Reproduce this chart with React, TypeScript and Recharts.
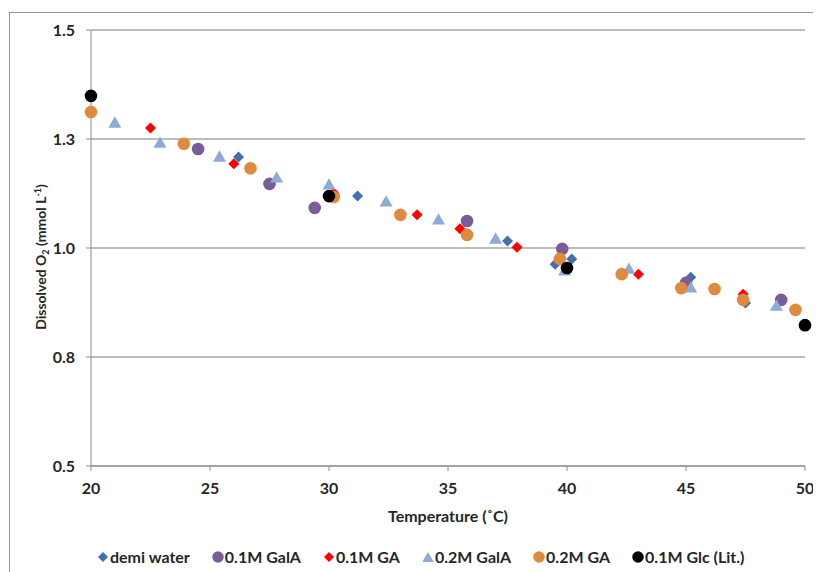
import React from "react";
import {
  CartesianGrid,
  Legend,
  Scatter,
  ScatterChart,
  XAxis,
  YAxis,
} from "recharts";

// Dissolved oxygen vs temperature, one array per solution
const demiWater = [
  { t: 26.2, o2: 1.209 },
  { t: 31.2, o2: 1.119 },
  { t: 37.5, o2: 1.016 },
  { t: 39.5, o2: 0.963 },
  { t: 40.2, o2: 0.975 },
  { t: 45.2, o2: 0.933 },
  { t: 47.5, o2: 0.874 },
];

const galA01 = [
  { t: 24.5, o2: 1.227 },
  { t: 27.5, o2: 1.147 },
  { t: 29.4, o2: 1.092 },
  { t: 35.8, o2: 1.062 },
  { t: 39.8, o2: 0.998 },
  { t: 45.0, o2: 0.92 },
  { t: 49.0, o2: 0.881 },
];

const ga01 = [
  { t: 22.5, o2: 1.275 },
  { t: 26.0, o2: 1.193 },
  { t: 30.2, o2: 1.126 },
  { t: 33.7, o2: 1.076 },
  { t: 35.5, o2: 1.044 },
  { t: 37.9, o2: 1.002 },
  { t: 43.0, o2: 0.94 },
  { t: 47.4, o2: 0.894 },
];

const galA02 = [
  { t: 21.0, o2: 1.289 },
  { t: 22.9, o2: 1.243 },
  { t: 25.4, o2: 1.211 },
  { t: 27.8, o2: 1.163 },
  { t: 30.0, o2: 1.147 },
  { t: 32.4, o2: 1.108 },
  { t: 34.6, o2: 1.067 },
  { t: 37.0, o2: 1.023 },
  { t: 39.9, o2: 0.95 },
  { t: 42.6, o2: 0.954 },
  { t: 45.2, o2: 0.911 },
  { t: 48.8, o2: 0.869 },
];

const ga02 = [
  { t: 20.0, o2: 1.312 },
  { t: 23.9, o2: 1.239 },
  { t: 26.7, o2: 1.183 },
  { t: 30.2, o2: 1.117 },
  { t: 33.0, o2: 1.076 },
  { t: 35.8, o2: 1.03 },
  { t: 39.7, o2: 0.975 },
  { t: 42.3, o2: 0.94 },
  { t: 44.8, o2: 0.908 },
  { t: 46.2, o2: 0.906 },
  { t: 47.4, o2: 0.881 },
  { t: 49.6, o2: 0.858 },
];

const glcLit = [
  { t: 20, o2: 1.349 },
  { t: 30, o2: 1.119 },
  { t: 40, o2: 0.954 },
  { t: 50, o2: 0.823 },
];

const xTicks = [20, 25, 30, 35, 40, 45, 50];
const yTicks = [0.5, 0.75, 1.0, 1.25, 1.5];

const FONT = "Lato, 'Open Sans', sans-serif";
const TEXT = "#262626";

type Marker = "diamond" | "circle" | "triangle";

const series: { name: string; data: { t: number; o2: number }[]; color: string; marker: Marker }[] = [
  { name: "demi water", data: demiWater, color: "#4170b0", marker: "diamond" },
  { name: "0.1M GalA", data: galA01, color: "#7a5c99", marker: "circle" },
  { name: "0.1M GA", data: ga01, color: "#ff0000", marker: "diamond" },
  { name: "0.2M GalA", data: galA02, color: "#8eaad6", marker: "triangle" },
  { name: "0.2M GA", data: ga02, color: "#df8a3f", marker: "circle" },
  { name: "0.1M Glc (Lit.)", data: glcLit, color: "#000000", marker: "circle" },
];

// marker path centred on (cx, cy); s is the overall size in px
const markerEl = (m: Marker, cx: number, cy: number, s: number, color: string) => {
  if (m === "circle") return <circle cx={cx} cy={cy} r={s / 2} fill={color} />;
  if (m === "diamond") {
    const r = s / 2;
    return (
      <path
        d={`M${cx},${cy - r}L${cx + r},${cy}L${cx},${cy + r}L${cx - r},${cy}Z`}
        fill={color}
      />
    );
  }
  const h = s * 0.87;
  return (
    <path
      d={`M${cx},${cy - h / 2}L${cx + s / 2},${cy + h / 2}L${cx - s / 2},${cy + h / 2}Z`}
      fill={color}
    />
  );
};

const MARKER_SIZE: Record<Marker, number> = { circle: 12.6, diamond: 11, triangle: 13 };

const LegendContent = () => (
  <div
    style={{
      display: "flex",
      alignItems: "center",
      fontFamily: FONT,
      fontSize: 16,
      fontWeight: 700,
      lineHeight: "20px",
      color: TEXT,
      whiteSpace: "nowrap",
    }}
  >
    {series.map((s) => (
      <span
        key={s.name}
        style={{ display: "inline-flex", alignItems: "center", marginRight: 22 }}
      >
        <svg width={12} height={12} style={{ marginRight: 1 }}>
          {markerEl(s.marker, 6, 6, s.marker === "diamond" ? 10 : 11.5, s.color)}
        </svg>
        {s.name}
      </span>
    ))}
  </div>
);

const XTitle = (props: any) => {
  const vb = props.viewBox || {};
  return (
    <text
      x={vb.x + vb.width / 2}
      y={vb.y + 56}
      textAnchor="middle"
      fontFamily={FONT}
      fontSize={16}
      fontWeight={700}
      fill={TEXT}
    >
      Temperature (˚C)
    </text>
  );
};

const YTitle = (props: any) => {
  const vb = props.viewBox || {};
  const cx = vb.x + 38;
  const cy = vb.y + vb.height / 2 + 9;
  return (
    <text
      x={cx}
      y={cy}
      transform={`rotate(-90, ${cx}, ${cy})`}
      textAnchor="middle"
      fontFamily={FONT}
      fontSize={14}
      fontWeight={700}
      fill={TEXT}
    >
      Dissolved O
      <tspan fontSize={9} dy={3}>
        2
      </tspan>
      <tspan dy={-3}> (mmol L</tspan>
      <tspan fontSize={9} dy={-5}>
        -1
      </tspan>
      <tspan dy={5}>)</tspan>
    </text>
  );
};

export default function App() {
  return (
    <div
      style={{
        position: "relative",
        width: 813,
        height: 564,
        overflow: "hidden",
        background: "#fff",
      }}
    >
      <div
        style={{
          position: "absolute",
          left: 1,
          top: 4,
          width: 1000,
          height: 1000,
          border: "1px solid #969696",
        }}
      />
      <div style={{ position: "absolute", left: 0, top: 0 }}>
        <ScatterChart
          width={813}
          height={564}
          margin={{ top: 22, right: 16, bottom: 46, left: 0 }}
        >
          <CartesianGrid vertical={false} stroke="#a6a6a6" strokeWidth={1.3} />
          <XAxis
            type="number"
            dataKey="t"
            domain={[20, 50]}
            ticks={xTicks}
            height={60}
            stroke="#8c8c8c"
            tickSize={5}
            tickMargin={12}
            tick={{ fontFamily: FONT, fontSize: 16, fontWeight: 700, fill: TEXT }}
            label={XTitle}
          />
          <YAxis
            type="number"
            dataKey="o2"
            domain={[0.5, 1.5]}
            ticks={yTicks}
            width={83}
            stroke="#8c8c8c"
            tickSize={5}
            tickMargin={11}
            tickFormatter={(v: number) => v.toFixed(1)}
            tick={{ fontFamily: FONT, fontSize: 16, fontWeight: 700, fill: TEXT }}
            label={YTitle}
          />
          <Legend
            layout="horizontal"
            verticalAlign="middle"
            align="center"
            content={LegendContent}
            wrapperStyle={{ top: 539, left: 89, width: "auto" }}
          />
          {series.map((s) => (
            <Scatter
              key={s.name}
              name={s.name}
              data={s.data}
              fill={s.color}
              legendType={s.marker}
              shape={(p: any) => markerEl(s.marker, p.cx, p.cy, MARKER_SIZE[s.marker], s.color)}
              isAnimationActive={false}
            />
          ))}
        </ScatterChart>
      </div>
    </div>
  );
}
